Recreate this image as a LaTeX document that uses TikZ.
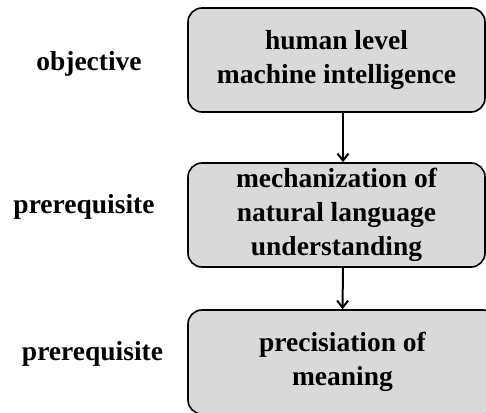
\documentclass[tikz,border=0pt]{standalone}
\usepackage{fontspec}
\setmainfont{Liberation Serif}
\usetikzlibrary{arrows.meta}
\definecolor{boxgray}{HTML}{D9D9D9}

\begin{document}
\begin{tikzpicture}[x=1pt,y=-1pt,>={Straight Barb[length=7pt,width=11pt]}]

      \clip (0,0) rectangle (486,412);

      \begin{scope}[every node/.style={draw,fill=boxgray,rounded corners=14pt,line width=1.6pt,
          minimum width=297pt,minimum height=104pt,align=center,
          font=\bfseries\fontsize{27.5}{34}\selectfont}]
        \node (hlmi) at (336.5,60) {human level\\machine intelligence};
        \node (nlu) at (336.5,215) {mechanization of\\natural language\\understanding};
        \node[minimum width=309pt] (pm) at (342.5,362) {precisiation of\\meaning};
      \end{scope}

      \begin{scope}[every node/.style={anchor=base,font=\bfseries\fontsize{27.5}{34}\selectfont}]
        \node (obj) at (89,70) {objective};
        \node (pre1) at (84,213) {prerequisite};
        \node (pre2) at (92.5,360) {prerequisite};
      \end{scope}

      \draw[->,line width=2pt] ([xshift=6.5pt]hlmi.south) -- ([xshift=6.5pt]nlu.north);
      \draw[->,line width=2pt] ([xshift=6.5pt]nlu.south) -- (pm.north);

    \end{tikzpicture}
\end{document}
